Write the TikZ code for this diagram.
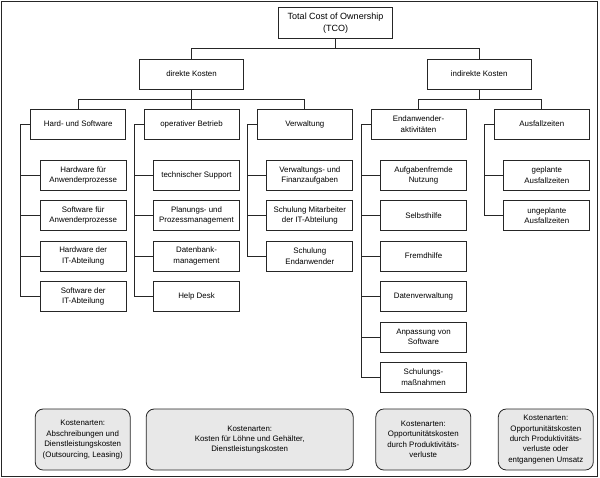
\documentclass[tikz,border=0pt]{standalone}
\usepackage{fontspec}
\setmainfont{Liberation Sans}
\begin{document}
\begin{tikzpicture}[x=1pt,y=-1pt,
  line width=0.8pt,
  every node/.style={font=\fontsize{7.9}{10.4}\selectfont, align=center, inner sep=0pt},
  box/.style={draw=black!85, minimum height=30pt},
  top/.style={box, minimum width=95pt},
  leaf/.style={box, minimum width=86pt},
  mid/.style={box, minimum width=104pt},
  kosten/.style={draw=black!85, fill=black!9, rounded corners=8pt, minimum height=61pt, minimum width=95pt},
  conn/.style={draw=black!85, line width=0.8pt}
]
\useasboundingbox (0,0) rectangle (600,477);
\draw[black!85, line width=1pt] (1,1) rectangle (597.5,476);

% root
\node[box, minimum width=113.5pt, minimum height=31.5pt, font=\fontsize{9}{12}\selectfont] (tco) at (335.5,23) {Total Cost of Ownership\\(TCO)};
\node[mid] (dk) at (191.5,74) {direkte Kosten};
\node[mid] (ik) at (479.2,74) {indirekte Kosten};
\draw[conn] (tco.south) -- ++(0,9) -| (dk.north);
\draw[conn] (tco.south) -- ++(0,9) -| (ik.north);

% level 2
\node[top] (hs) at (78.2,124) {Hard- und Software};
\node[top] (ob) at (191.5,124) {operativer Betrieb};
\node[top] (vw) at (304.8,124) {Verwaltung};
\node[top] (ea) at (418.5,124) {Endanwender-\\aktivitäten};
\node[top] (az) at (541.8,124) {Ausfallzeiten};
\draw[conn] (dk.south) -- ++(0,10) -| (hs.north);
\draw[conn] (dk.south) -- (ob.north);
\draw[conn] (dk.south) -- ++(0,10) -| (vw.north);
\draw[conn] (ik.south) -- ++(0,10) -| (ea.north);
\draw[conn] (ik.south) -- ++(0,10) -| (az.north);

% leaves: Hard- und Software
\node[leaf] (hs1) at (83.2,175.3) {Hardware für\\Anwenderprozesse};
\node[leaf] (hs2) at (83.2,215.7) {Software für\\Anwenderprozesse};
\node[leaf] (hs3) at (83.2,256.1) {Hardware der\\IT-Abteilung};
\node[leaf] (hs4) at (83.2,296.5) {Software der\\IT-Abteilung};
% operativer Betrieb
\node[leaf] (ob1) at (196.5,175.3) {technischer Support};
\node[leaf] (ob2) at (196.5,215.7) {Planungs- und\\Prozessmanagement};
\node[leaf] (ob3) at (196.5,256.1) {Datenbank-\\management};
\node[leaf] (ob4) at (196.5,296.5) {Help Desk};
% Verwaltung
\node[leaf] (vw1) at (309.8,175.3) {Verwaltungs- und\\Finanzaufgaben};
\node[leaf] (vw2) at (309.8,215.7) {Schulung Mitarbeiter\\der IT-Abteilung};
\node[leaf] (vw3) at (309.8,256.1) {Schulung\\Endanwender};
% Endanwenderaktivitaeten
\node[leaf] (ea1) at (423.5,175.3) {Aufgabenfremde\\Nutzung};
\node[leaf] (ea2) at (423.5,215.7) {Selbsthilfe};
\node[leaf] (ea3) at (423.5,256.1) {Fremdhilfe};
\node[leaf] (ea4) at (423.5,296.5) {Datenverwaltung};
\node[leaf] (ea5) at (423.5,336.9) {Anpassung von\\Software};
\node[leaf] (ea6) at (423.5,377.3) {Schulungs-\\maßnahmen};
% Ausfallzeiten
\node[leaf] (az1) at (546.8,175.3) {geplante\\Ausfallzeiten};
\node[leaf] (az2) at (546.8,215.7) {ungeplante\\Ausfallzeiten};

% brackets
\foreach \p/\last/\list in {hs/hs4/{hs1,hs2,hs3,hs4}, ob/ob4/{ob1,ob2,ob3,ob4}, vw/vw3/{vw1,vw2,vw3}, ea/ea6/{ea1,ea2,ea3,ea4,ea5,ea6}, az/az2/{az1,az2}}{
  \coordinate (\p-b) at ([xshift=-9.5pt]\p.west);
  \draw[conn] (\p.west) -- (\p-b) |- (\last.west);
  \foreach \l in \list {\draw[conn] (\l.west) -- (\l.west -| \p-b);}
}

% Kostenarten
\node[kosten] (k1) at (82.7,439.5) {Kostenarten:\\Abschreibungen und\\Dienstleistungskosten\\(Outsourcing, Leasing)};
\node[kosten, minimum width=207pt] (k2) at (249.7,439.5) {Kostenarten:\\Kosten für Löhne und Gehälter,\\Dienstleistungskosten};
\node[kosten] (k3) at (423.3,439.5) {Kostenarten:\\Opportunitätskosten\\durch Produktivitäts-\\verluste};
\node[kosten] (k4) at (545.8,439.5) {Kostenarten:\\Opportunitätskosten\\durch Produktivitäts-\\verluste oder\\entgangenen Umsatz};
\end{tikzpicture}
\end{document}
